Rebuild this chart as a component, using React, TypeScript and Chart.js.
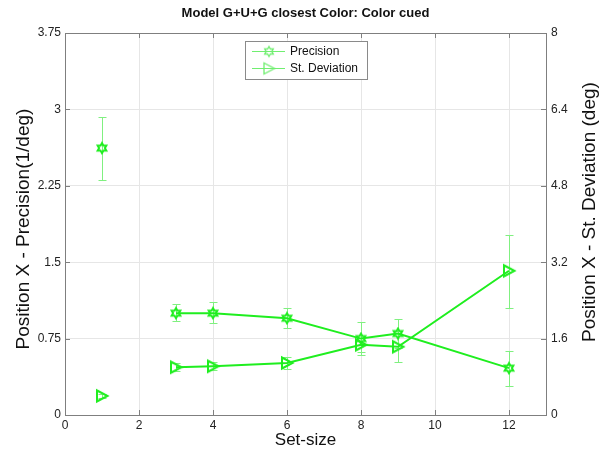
import React, { useEffect, useRef } from "react";
import { Chart, registerables } from "chart.js";

Chart.register(...registerables);

const FONT = "'Liberation Sans', Arial, Helvetica, sans-serif";

const chartTitle = "Model G+U+G closest Color: Color cued";
const xTitle = "Set-size";
const yLeftTitle = "Position X - Precision(1/deg)";
const yRightTitle = "Position X - St. Deviation (deg)";
const seriesNames = ["Precision", "St. Deviation"];

const setSizes = [1, 3, 4, 6, 8, 9, 12];
const precision = [2.62, 1.0, 1.0, 0.95, 0.75, 0.8, 0.46];
const precisionLow = [2.31, 0.925, 0.9, 0.854, 0.59, 0.66, 0.285];
const precisionHigh = [2.93, 1.09, 1.11, 1.05, 0.91, 0.94, 0.63];
const stDev = [0.4, 1.0, 1.02, 1.09, 1.47, 1.43, 3.02];
const stDevLow = [0.36, 0.92, 0.94, 0.96, 1.32, 1.11, 2.25];
const stDevHigh = [0.44, 1.08, 1.1, 1.21, 1.62, 1.75, 3.77];

const xTicks = [0, 2, 4, 6, 8, 10, 12];
const leftTicks = [0, 0.75, 1.5, 2.25, 3, 3.75];
const rightTicks = [0, 1.6, 3.2, 4.8, 6.4, 8];

const LINE = "#1fee1f";
const ERR = "#80f080";
const LEG = "#70ee70";

function hexagram(color: string, lw: number) {
  const c = document.createElement("canvas");
  c.width = 14;
  c.height = 14;
  const g = c.getContext("2d")!;
  const R = 5;
  const r = R / Math.sqrt(3);
  g.beginPath();
  for (let k = 0; k < 12; k++) {
    const a = -Math.PI / 2 + (k * Math.PI) / 6;
    const rad = k % 2 === 0 ? R : r;
    const px = 7 + rad * Math.cos(a);
    const py = 7 + rad * Math.sin(a);
    if (k === 0) g.moveTo(px, py);
    else g.lineTo(px, py);
  }
  g.closePath();
  g.strokeStyle = color;
  g.lineWidth = lw;
  g.stroke();
  return c;
}

function triRight(color: string, lw: number) {
  const c = document.createElement("canvas");
  c.width = 16;
  c.height = 16;
  const g = c.getContext("2d")!;
  g.beginPath();
  g.moveTo(3, 2.5);
  g.lineTo(3, 13.5);
  g.lineTo(13.5, 8);
  g.closePath();
  g.strokeStyle = color;
  g.lineWidth = lw;
  g.stroke();
  return c;
}

export default function App() {
  const ref = useRef<HTMLCanvasElement | null>(null);

  useEffect(() => {
    if (!ref.current) return;
    const hexM = hexagram(LINE, 2);
    const triM = triRight(LINE, 2);
    const hexL = hexagram(LEG, 1.3);
    const triL = triRight(LEG, 1.3);

    const extras = {
      id: "extras",
      beforeDatasetsDraw(chart: any) {
        const ctx = chart.ctx;
        const xs = chart.scales.x;
        const drawErr = (lo: number[], hi: number[], ys: any) => {
          ctx.save();
          ctx.strokeStyle = ERR;
          ctx.lineWidth = 1;
          for (let i = 0; i < setSizes.length; i++) {
            const px = Math.round(xs.getPixelForValue(setSizes[i])) + 0.5;
            const pl = Math.round(ys.getPixelForValue(lo[i])) + 0.5;
            const ph = Math.round(ys.getPixelForValue(hi[i])) + 0.5;
            ctx.beginPath();
            ctx.moveTo(px, pl);
            ctx.lineTo(px, ph);
            ctx.moveTo(px - 4, pl);
            ctx.lineTo(px + 4, pl);
            ctx.moveTo(px - 4, ph);
            ctx.lineTo(px + 4, ph);
            ctx.stroke();
          }
          ctx.restore();
        };
        drawErr(precisionLow, precisionHigh, chart.scales.y);
        drawErr(stDevLow, stDevHigh, chart.scales.y1);
      },
      afterDraw(chart: any) {
        const ctx = chart.ctx;
        const a = chart.chartArea;
        const xs = chart.scales.x;
        const yl = chart.scales.y;
        const yr = chart.scales.y1;
        ctx.save();
        ctx.strokeStyle = "#7f7f7f";
        ctx.lineWidth = 1;
        ctx.beginPath();
        ctx.moveTo(a.left, Math.round(a.top) + 0.5);
        ctx.lineTo(a.right, Math.round(a.top) + 0.5);
        ctx.stroke();
        ctx.beginPath();
        for (const v of xTicks) {
          const px = Math.round(xs.getPixelForValue(v)) + 0.5;
          ctx.moveTo(px, a.bottom);
          ctx.lineTo(px, a.bottom - 5);
          ctx.moveTo(px, a.top);
          ctx.lineTo(px, a.top + 5);
        }
        for (const v of leftTicks) {
          const py = Math.round(yl.getPixelForValue(v)) + 0.5;
          ctx.moveTo(a.left, py);
          ctx.lineTo(a.left + 5, py);
        }
        for (const v of rightTicks) {
          const py = Math.round(yr.getPixelForValue(v)) + 0.5;
          ctx.moveTo(a.right, py);
          ctx.lineTo(a.right - 5, py);
        }
        ctx.stroke();

        ctx.fillStyle = "#111";
        ctx.font = `bold 13px ${FONT}`;
        ctx.textAlign = "center";
        ctx.textBaseline = "middle";
        ctx.fillText(chartTitle, (a.left + a.right) / 2, 13);

        ctx.font = `17px ${FONT}`;
        ctx.fillStyle = "#111";
        ctx.fillText(xTitle, (a.left + a.right) / 2, 440);
        const cy = (a.top + a.bottom) / 2;
        ctx.font = `19px ${FONT}`;
        ctx.save();
        ctx.translate(24, cy + 5);
        ctx.rotate(-Math.PI / 2);
        ctx.fillText(yLeftTitle, 0, 0);
        ctx.restore();
        ctx.save();
        ctx.translate(590, cy - 12);
        ctx.rotate(-Math.PI / 2);
        ctx.fillText(yRightTitle, 0, 0);
        ctx.restore();

        const lx = 245.5, ly = 41.5, lw = 122, lh = 38;
        ctx.fillStyle = "#ffffff";
        ctx.fillRect(lx, ly, lw, lh);
        ctx.strokeStyle = "#8a8a8a";
        ctx.lineWidth = 1;
        ctx.strokeRect(lx, ly, lw, lh);
        const rows = [
          { y: 51.5, m: hexL, t: seriesNames[0] },
          { y: 68.5, m: triL, t: seriesNames[1] },
        ];
        ctx.font = `12px ${FONT}`;
        ctx.textAlign = "left";
        ctx.textBaseline = "middle";
        for (const r of rows) {
          ctx.strokeStyle = LEG;
          ctx.lineWidth = 1;
          ctx.beginPath();
          ctx.moveTo(252, r.y);
          ctx.lineTo(285, r.y);
          ctx.stroke();
          ctx.drawImage(r.m, 269 - r.m.width / 2, r.y - r.m.height / 2);
          ctx.fillStyle = "#111";
          ctx.fillText(r.t, 290, r.y + 0.5);
        }
        ctx.restore();
      },
    };

    const pts = (vals: number[], idx: number[]) => idx.map((i) => ({ x: setSizes[i], y: vals[i] }));
    const lineIdx = [1, 2, 3, 4, 5, 6];

    const chart = new Chart(ref.current, {
      type: "line",
      data: {
        datasets: [
          {
            label: seriesNames[0],
            data: pts(precision, lineIdx),
            yAxisID: "y",
            borderColor: LINE,
            borderWidth: 2,
            pointStyle: hexM as any,
            pointRadius: 5,
            tension: 0,
            fill: false,
          },
          {
            label: seriesNames[0] + " (1)",
            data: pts(precision, [0]),
            yAxisID: "y",
            borderColor: LINE,
            showLine: false,
            pointStyle: hexM as any,
            pointRadius: 5,
          },
          {
            label: seriesNames[1],
            data: pts(stDev, lineIdx),
            yAxisID: "y1",
            borderColor: LINE,
            borderWidth: 2,
            pointStyle: triM as any,
            pointRadius: 6,
            tension: 0,
            fill: false,
          },
          {
            label: seriesNames[1] + " (1)",
            data: pts(stDev, [0]),
            yAxisID: "y1",
            borderColor: LINE,
            showLine: false,
            pointStyle: triM as any,
            pointRadius: 6,
          },
        ],
      },
      options: {
        animation: false,
        responsive: true,
        maintainAspectRatio: false,
        layout: { padding: { top: 33, left: 0, right: 0, bottom: 0 } },
        plugins: {
          legend: { display: false },
          title: { display: false },
          tooltip: { enabled: false },
        },
        scales: {
          x: {
            type: "linear",
            position: "bottom",
            min: 0,
            max: 13,
            afterBuildTicks: (s: any) => {
              s.ticks = xTicks.map((v) => ({ value: v }));
            },
            afterFit: (s: any) => {
              s.height = 36;
            },
            grid: { color: "#e6e6e6", drawTicks: false },
            border: { color: "#7f7f7f" },
            ticks: {
              color: "#222",
              font: { family: FONT, size: 12 },
              padding: 3,
              maxRotation: 0,
              autoSkip: false,
              callback: (v: any) => String(v),
            },
          },
          y: {
            type: "linear",
            position: "left",
            min: 0,
            max: 3.75,
            afterBuildTicks: (s: any) => {
              s.ticks = leftTicks.map((v) => ({ value: v }));
            },
            afterFit: (s: any) => {
              s.width = 65;
            },
            grid: { color: "#e6e6e6", drawTicks: false },
            border: { color: "#7f7f7f" },
            ticks: {
              color: "#222",
              font: { family: FONT, size: 12 },
              padding: 4,
              autoSkip: false,
              callback: (v: any) => String(v),
            },
          },
          y1: {
            type: "linear",
            position: "right",
            min: 0,
            max: 8,
            afterBuildTicks: (s: any) => {
              s.ticks = rightTicks.map((v) => ({ value: v }));
            },
            afterFit: (s: any) => {
              s.width = 55;
            },
            grid: { drawOnChartArea: false, drawTicks: false },
            border: { color: "#7f7f7f" },
            ticks: {
              color: "#222",
              font: { family: FONT, size: 12 },
              padding: 5,
              autoSkip: false,
              callback: (v: any) => String(v),
            },
          },
        },
      },
      plugins: [extras],
    } as any);

    return () => chart.destroy();
  }, []);

  return (
    <div style={{ position: "fixed", left: 0, top: 0, width: 601, height: 451, background: "#fff" }}>
      <canvas ref={ref} />
    </div>
  );
}
